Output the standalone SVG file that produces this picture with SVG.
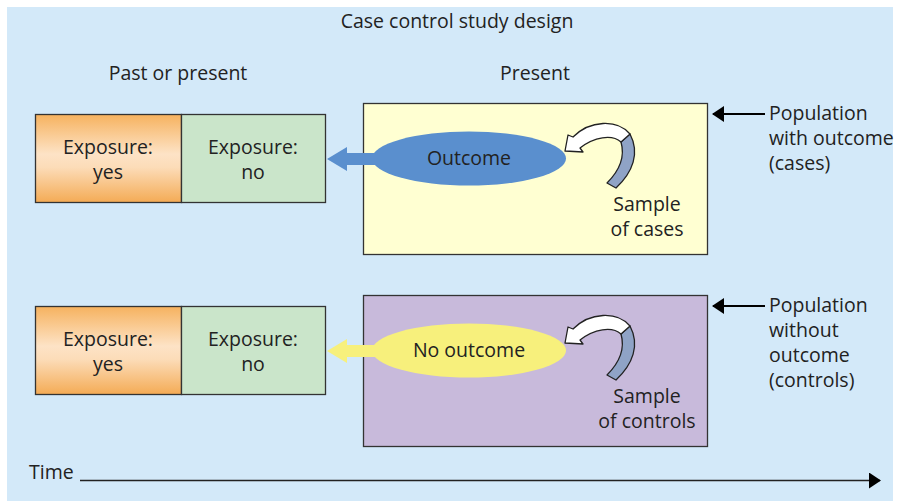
<svg xmlns="http://www.w3.org/2000/svg" width="899" height="501" viewBox="0 0 899 501">
<defs>
<linearGradient id="og" x1="0" y1="0" x2="0" y2="1">
<stop offset="0" stop-color="#f6b25f"/>
<stop offset="0.45" stop-color="#fde3c6"/>
<stop offset="0.6" stop-color="#fcdcb8"/>
<stop offset="1" stop-color="#f4ab55"/>
</linearGradient>
<marker id="ah2" viewBox="0 0 12 16" refX="11" refY="8" markerWidth="12" markerHeight="16" markerUnits="userSpaceOnUse" orient="auto">
<path d="M0,0 L12,8 L0,16 z" fill="#000"/>
</marker>
</defs>
<style>
text{font-family:"Open Sans","Liberation Sans",sans-serif;font-size:19.5px;fill:#222}
.c{text-anchor:middle}
.box{stroke:#333;stroke-width:1.3}
.pt{stroke:#000;stroke-width:2;fill:none}
.rib{stroke:#222;stroke-width:1.3;stroke-linejoin:round}
</style>
<rect x="7" y="7" width="886" height="494" fill="#d3e9f9"/>
<text class="c" x="457" y="28">Case control study design</text>
<text class="c" x="178" y="80">Past or present</text>
<text class="c" x="535" y="80">Present</text>

<g id="exp-top">
<rect class="box" x="35.5" y="114.5" width="146" height="88" fill="url(#og)"/>
<rect class="box" x="181.5" y="114.5" width="144" height="88" fill="#cae5ca"/>
<text class="c" x="108" y="154">Exposure:</text>
<text class="c" x="108" y="179">yes</text>
<text class="c" x="253" y="154">Exposure:</text>
<text class="c" x="253" y="179">no</text>
</g>
<g id="exp-bottom">
<rect class="box" x="35.5" y="306.5" width="146" height="88" fill="url(#og)"/>
<rect class="box" x="181.5" y="306.5" width="144" height="88" fill="#cae5ca"/>
<text class="c" x="108" y="346">Exposure:</text>
<text class="c" x="108" y="371">yes</text>
<text class="c" x="253" y="346">Exposure:</text>
<text class="c" x="253" y="371">no</text>
</g>

<g id="cases">
<rect class="box" x="363.5" y="103.5" width="344" height="151" fill="#ffffd2"/>
<ellipse cx="469" cy="158.5" rx="97" ry="27" fill="#5a8fce"/>
<text class="c" x="469" y="165">Outcome</text>
<text class="c" x="647" y="211">Sample</text>
<text class="c" x="647" y="236">of cases</text>
</g>
<g id="controls">
<rect class="box" x="363.5" y="295.5" width="344" height="151" fill="#c8badb"/>
<ellipse cx="469" cy="350.5" rx="97" ry="27" fill="#f7f07c"/>
<text class="c" x="469" y="357">No outcome</text>
<text class="c" x="647" y="403">Sample</text>
<text class="c" x="647" y="428">of controls</text>
</g>

<g id="pop-labels">
<text x="769" y="120">Population</text>
<text x="769" y="145">with outcome</text>
<text x="769" y="170">(cases)</text>
<text x="769" y="312">Population</text>
<text x="769" y="337">without</text>
<text x="769" y="362">outcome</text>
<text x="769" y="387">(controls)</text>
<text x="29" y="479">Time</text>
</g>

<g id="connectors">
<path d="M376,153 L347,153 L347,147 L327,159 L347,171 L347,165 L376,165 z" fill="#5a8fce"/>
<path d="M376,345 L347,345 L347,339 L327,351 L347,363 L347,357 L376,357 z" fill="#f7f07c"/>
<path class="rib" d="M621,142 C625,156 620,170 607,183 L616,188 C633,172 640,153 630,134 z" fill="#8fa3c6"/>
<path class="rib" d="M630,134 C617,119 590,120 573,137 L568,135 L565,151 L583,152 L580,148 C594,137 612,134 621,142 z" fill="#fff"/>
<path class="rib" d="M621,334 C625,348 620,362 607,375 L616,380 C633,364 640,345 630,326 z" fill="#8fa3c6"/>
<path class="rib" d="M630,326 C617,311 590,312 573,329 L568,327 L565,343 L583,344 L580,340 C594,329 612,326 621,334 z" fill="#fff"/>
<line class="pt" x1="765" y1="114" x2="713" y2="114" marker-end="url(#ah2)"/>
<line class="pt" x1="765" y1="306" x2="713" y2="306" marker-end="url(#ah2)"/>
<line x1="80" y1="480.5" x2="880" y2="480.5" stroke="#222" stroke-width="1.3" marker-end="url(#ah2)"/>
</g>
</svg>
